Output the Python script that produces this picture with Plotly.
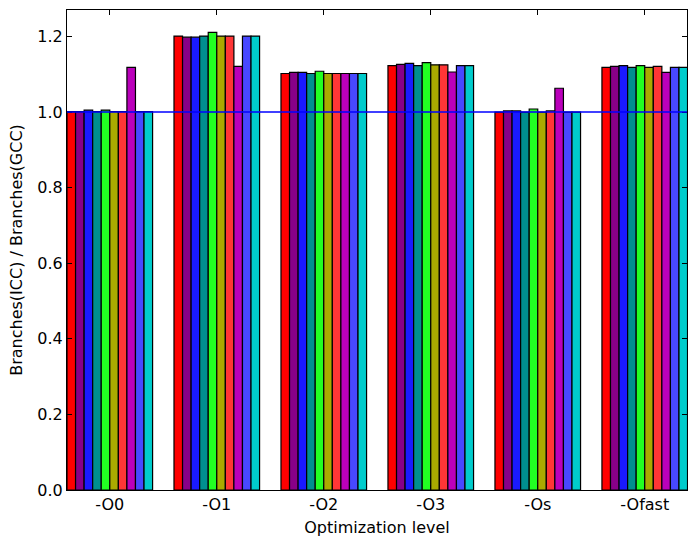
import plotly.graph_objects as go

levels = ["-O0", "-O1", "-O2", "-O3", "-Os", "-Ofast"]

series_names = ["s1", "s2", "s3", "s4", "s5", "s6", "s7", "s8", "s9", "s10"]
series_colors = ["#FF0000", "#880088", "#1A1AFF", "#008F8F", "#22FF22",
                 "#AAAA00", "#FF3636", "#BB00BB", "#4848FF", "#00CCCC"]

# values[series][level]
values = [
    [1.001, 1.201, 1.102, 1.123, 1.000, 1.118],
    [1.001, 1.198, 1.105, 1.126, 1.003, 1.121],
    [1.005, 1.198, 1.105, 1.129, 1.003, 1.123],
    [1.001, 1.201, 1.102, 1.123, 1.000, 1.118],
    [1.005, 1.211, 1.108, 1.131, 1.008, 1.123],
    [1.001, 1.201, 1.102, 1.125, 1.000, 1.118],
    [1.001, 1.201, 1.102, 1.125, 1.003, 1.121],
    [1.118, 1.121, 1.102, 1.106, 1.063, 1.105],
    [1.001, 1.201, 1.102, 1.123, 1.000, 1.118],
    [1.001, 1.201, 1.102, 1.123, 1.000, 1.118],
]

yticks = [0.0, 0.2, 0.4, 0.6, 0.8, 1.0, 1.2]
baseline = 1.0

font_family = "DejaVu Sans, sans-serif"

fig = go.Figure()
for name, color, vals in zip(series_names, series_colors, values):
    fig.add_trace(go.Bar(
        x=levels, y=vals, name=name,
        marker=dict(color=color, line=dict(color="black", width=1.2)),
    ))

fig.add_shape(type="line", xref="paper", x0=0, x1=1, yref="y", y0=baseline, y1=baseline,
              line=dict(color="#0000FF", width=1.5), layer="above")

fig.update_layout(
    width=697, height=548,
    margin=dict(l=67, r=10, t=10, b=58),
    paper_bgcolor="white", plot_bgcolor="white",
    barmode="group", bargap=0.2, bargroupgap=0,
    showlegend=False,
    font=dict(family=font_family, size=16, color="black"),
    xaxis=dict(
        range=[-0.4, 5.395],
        showline=True, linecolor="black", linewidth=1, mirror="ticks",
        ticks="inside", ticklen=5, tickcolor="black",
        showgrid=False, zeroline=False,
        title=dict(text="Optimization level", font=dict(size=16), standoff=8),
        tickfont=dict(size=16),
    ),
    yaxis=dict(
        range=[0, 1.27],
        tickvals=yticks, ticktext=[f"{v:.1f}" for v in yticks],
        showline=True, linecolor="black", linewidth=1, mirror="ticks",
        ticks="inside", ticklen=5, tickcolor="black",
        showgrid=False, zeroline=False,
        title=dict(text="Branches(ICC) / Branches(GCC)", font=dict(size=16), standoff=10),
        tickfont=dict(size=16),
    ),
)

fig.write_html("out.html")
